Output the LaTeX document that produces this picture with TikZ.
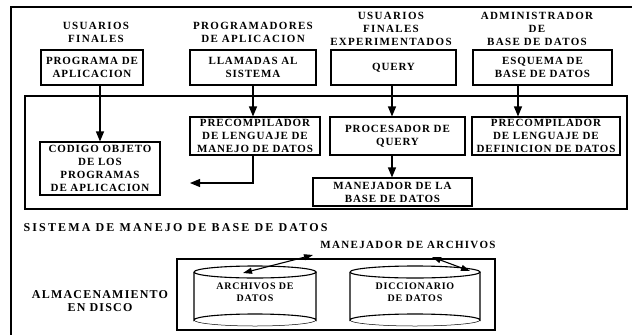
\documentclass[tikz,border=0pt]{standalone}
\usepackage{fontspec}
\newfontfamily\lblfont{Liberation Serif}[LetterSpace=8]
\newfontfamily\hdrfont{Liberation Serif}[LetterSpace=12]
\newfontfamily\bigfont{Liberation Serif}[LetterSpace=18]
\newfontfamily\midfont{Liberation Serif}[LetterSpace=10]
\usetikzlibrary{arrows.meta}
\begin{document}
\begin{tikzpicture}[x=1pt,y=-1pt,line width=1.1pt,
  txt/.style={inner sep=0pt,align=center,font=\lblfont\bfseries\fontsize{11}{13}\selectfont},
  hdr/.style={inner sep=0pt,align=center,font=\hdrfont\bfseries\fontsize{11}{13}\selectfont},
  box/.style={txt,draw},
  arr/.style={-{Triangle[length=10pt,width=8pt]}},
  darr/.style={{Triangle[length=9pt,width=6pt]}-{Triangle[length=9pt,width=6pt]}}]
\useasboundingbox (0,0) rectangle (632,335);
% outer frame
\draw (632,7) -- (11,7) -- (11,335);
% headers
\node[hdr] (h1) at (96,32) {USUARIOS\\FINALES};
\node[hdr] (h2) at (253,32) {PROGRAMADORES\\DE APLICACION};
\node[hdr] (h3) at (391,29) {USUARIOS\\FINALES\\EXPERIMENTADOS};
\node[hdr] (h4) at (537,29) {ADMINISTRADOR\\DE\\BASE DE DATOS};
% top boxes
\node[box,minimum width=102,minimum height=35] (prog) at (92,67.5) {PROGRAMA DE\\APLICACION};
\node[box,minimum width=126,minimum height=35] (llam) at (253,67.5) {LLAMADAS AL\\SISTEMA};
\node[box,minimum width=125,minimum height=35] (query) at (393.5,67.5) {QUERY};
\node[box,minimum width=139,minimum height=35] (esq) at (542.5,67.5) {ESQUEMA DE\\BASE DE DATOS};
% DBMS box
\node[draw,inner sep=0pt,minimum width=602,minimum height=113] (dbms) at (326,152.5) {};
% inner boxes
\node[box,minimum width=130,minimum height=38] (dml) at (255,136) {PRECOMPILADOR\\DE LENGUAJE DE\\MANEJO DE DATOS};
\node[box,minimum width=135,minimum height=38] (proc) at (397.5,136) {PROCESADOR DE\\QUERY};
\node[box,minimum width=148,minimum height=38] (ddl) at (546,136) {PRECOMPILADOR\\DE LENGUAJE DE\\DEFINICION DE DATOS};
\node[box,minimum width=120,minimum height=53] (cod) at (100,168.5) {CODIGO OBJETO\\DE LOS\\PROGRAMAS\\DE APLICACION};
\node[box,minimum width=159,minimum height=28] (mbd) at (392.5,192) {MANEJADOR DE LA\\BASE DE DATOS};
% arrows
\coordinate (qx) at (392,0);
\coordinate (ex) at (518,0);
\coordinate (dmlend) at (190,183);
\draw[arr] (cod |- prog.south) -- (cod.north);
\draw[arr] (llam.south) -- (llam |- dml.north);
\draw[arr] (qx |- query.south) -- (qx |- proc.north);
\draw[arr] (qx |- proc.south) -- (qx |- mbd.north);
\draw[arr] (ex |- esq.south) -- (ex |- ddl.north);
\draw[arr] (llam |- dml.south) -- (llam |- dmlend) -- (dmlend);
% labels
\node[inner sep=0pt,anchor=west,font=\bigfont\bfseries\fontsize{12}{14}\selectfont] (sist) at (23,228) {SISTEMA DE MANEJO DE BASE DE DATOS};
\node[hdr] (mda) at (408,245) {MANEJADOR DE ARCHIVOS};
\node[inner sep=0pt,align=center,font=\midfont\bfseries\fontsize{12}{13}\selectfont] (alm) at (100,301.5) {ALMACENAMIENTO\\EN DISCO};
% storage box
\node[draw,inner sep=0pt,minimum width=318,minimum height=71] (st) at (336,294.5) {};
% cylinders
\draw (194,272) arc[start angle=180,end angle=-180,x radius=61,y radius=6];
\draw (194,272) -- (194,320) arc[start angle=180,end angle=360,x radius=61,y radius=6] -- (316,272);
\draw[line width=0.5pt] (194,320) arc[start angle=180,end angle=0,x radius=61,y radius=6];
\draw (350,272) arc[start angle=180,end angle=-180,x radius=65,y radius=6];
\draw (350,272) -- (350,320) arc[start angle=180,end angle=360,x radius=65,y radius=6] -- (480,272);
\draw[line width=0.5pt] (350,320) arc[start angle=180,end angle=0,x radius=65,y radius=6];
\node[txt,font=\lblfont\bfseries\fontsize{10}{12}\selectfont] (c1) at (255,292) {ARCHIVOS DE\\DATOS};
\node[txt,font=\lblfont\bfseries\fontsize{10}{12}\selectfont] (c2) at (415,292) {DICCIONARIO\\DE DATOS};
\coordinate (a1) at (243,273);
\coordinate (a2) at (313,255);
\coordinate (b1) at (432,257);
\coordinate (b2) at (470,271);
\draw[darr] (a1) -- (a2);
\draw[darr] (b1) -- (b2);
\end{tikzpicture}
\end{document}
